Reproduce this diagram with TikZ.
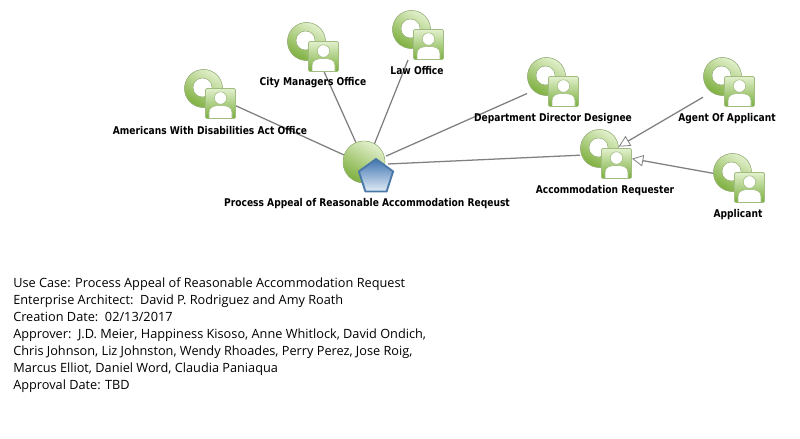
\documentclass[tikz,border=0pt]{standalone}
\usepackage{fontspec}
\setmainfont{Open Sans}
\newfontfamily\lblfont[FakeStretch=0.855]{DejaVu Sans Bold}
\usetikzlibrary{arrows.meta,shapes.geometric}
\definecolor{ringdark}{HTML}{7FB040}
\definecolor{ringlight}{HTML}{E2F0CC}
\definecolor{edgegreen}{HTML}{A0BC80}
\definecolor{boxdark}{HTML}{78AE3C}
\definecolor{linegray}{HTML}{808080}
\definecolor{penblue}{HTML}{3F74B0}
\definecolor{penedge}{HTML}{4A78A8}
\definecolor{penlight}{HTML}{E2ECF6}
\tikzset{
  x=0.75pt,y=-0.75pt,
  bbox/.style={rectangle,minimum width=39pt,minimum height=37.5pt,inner sep=0pt,outer sep=0pt},
  ucbox/.style={circle,minimum size=33pt,inner sep=0pt,outer sep=0pt},
  lbl/.style={font=\lblfont\fontsize{8}{10}\selectfont,text=black,inner sep=0pt},
  conn/.style={draw=linegray,line width=0.95pt},
  gen/.style={conn,-{Triangle[open,fill=white,length=8.5pt,width=8.5pt,line width=0.6pt]}},
  body/.style={font=\fontsize{9.55}{12.75}\selectfont,align=left,anchor=north west,inner sep=0pt,text=black},
  greenball/.style={top color=ringlight,bottom color=ringdark,shading angle=-30,draw=edgegreen,line width=0.4pt},
}
% #1 = ring centre
\newcommand{\actoricon}[1]{%
  \begin{scope}[shift={#1}]
    \fill[even odd rule,greenball]
      (0,0) circle[radius=19] (-1,-1) circle[radius=9.5];
    \fill[white] (-1,-1) circle[radius=9];
    \draw[draw=edgegreen,line width=0.5pt,top color=ringlight,bottom color=boxdark,rounded corners=1pt]
      (2,0) rectangle (32,30);
    \fill[white,draw=edgegreen,line width=0.4pt] (5.5,30) -- (5.5,24) .. controls (5.5,18) and (11,17) .. (17,17) .. controls (23,17) and (28.5,18) .. (28.5,24) -- (28.5,30) -- cycle;
    \fill[white,draw=edgegreen,line width=0.4pt] (17,9.5) circle[radius=6.2];
  \end{scope}}
\begin{document}
\begin{tikzpicture}
\useasboundingbox (0,0) rectangle (800,439);
\fill[white] (0,0) rectangle (800,439);
% layout nodes
\node[bbox] (ada) at (210,94) {};
\node[bbox] (city) at (313,47) {};
\node[bbox] (law) at (418,35) {};
\node[bbox] (dept) at (553,82) {};
\node[bbox] (agent) at (729,82) {};
\node[bbox] (req) at (606,154) {};
\node[bbox] (appl) at (739,178) {};
\node[ucbox] (uc) at (366,165) {};
% connectors
\draw[conn] (uc) -- (ada);
\draw[conn] (uc) -- (city);
\draw[conn] (uc) -- (law);
\draw[conn] (uc) -- (dept);
\draw[conn] (uc) -- (req);
% icons
\actoricon{(203.5,88.5)}
\actoricon{(306.5,41.5)}
\actoricon{(411.5,29.5)}
\actoricon{(546.5,76.5)}
\actoricon{(722.5,76.5)}
\actoricon{(599.5,148.5)}
\actoricon{(732.5,172.5)}
\draw[gen,shorten >=11pt] (agent) -- (req.center);
\draw[gen] (appl) -- (req);
% use case
\fill[greenball] (364,162) circle[radius=21];
\node[regular polygon,regular polygon sides=5,minimum size=27pt,inner sep=0pt,draw=penedge,line width=1.4pt,top color=penblue,bottom color=penlight] (pent) at (376,177) {};
% labels
\node[lbl] (l1) at (210,131) {Americans With Disabilities Act Office};
\node[lbl] (l2) at (313,83) {City Managers Office};
\node[lbl] (l3) at (417,71) {Law Office};
\node[lbl] (l4) at (553,119) {Department Director Designee};
\node[lbl] (l5) at (727,119) {Agent Of Applicant};
\node[lbl] (l6) at (605,191) {Accommodation Requester};
\node[lbl] (l7) at (738,215) {Applicant};
\node[lbl] (l8) at (367,204) {Process Appeal of Reasonable Accommodation Reqeust};
\node[body] (notes) at (13,277) {Use Case: Process Appeal of Reasonable Accommodation Request\\
Enterprise Architect:\ \ David P. Rodriguez and Amy Roath\\
Creation Date:\ \ 02/13/2017\\
Approver:\ \ J.D. Meier, Happiness Kisoso, Anne Whitlock, David Ondich,\\
Chris Johnson, Liz Johnston, Wendy Rhoades, Perry Perez, Jose Roig,\\
Marcus Elliot, Daniel Word, Claudia Paniaqua\\
Approval Date: TBD};
\end{tikzpicture}
\end{document}
